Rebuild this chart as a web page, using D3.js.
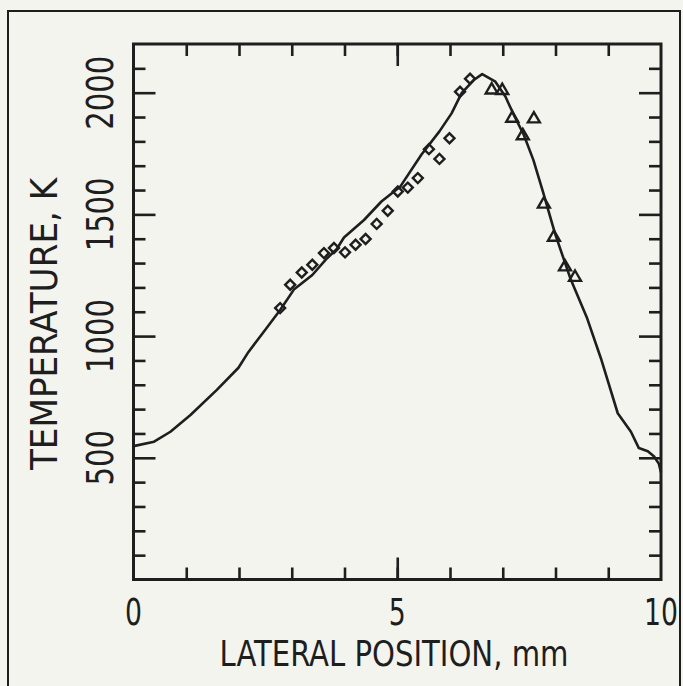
<!DOCTYPE html>
<html>
<head>
<meta charset="utf-8">
<script src="https://cdn.jsdelivr.net/npm/d3@7"></script>
<style>
  html, body { margin: 0; padding: 0; background: #f4f4ee; }
  svg { display: block; }
  text { font-family: "DejaVu Sans Condensed", "DejaVu Sans", sans-serif; font-stretch: condensed; fill: #1e1e1e; }
</style>
</head>
<body>
<script>
// ---- data ----
const curveX = [0, 0.39, 0.70, 1.08, 1.58, 1.99, 2.18, 2.47, 2.78, 3.04, 3.39, 3.67, 3.85, 3.99, 4.37, 4.70, 5.06, 5.46, 5.80, 6.03, 6.22, 6.45, 6.61, 6.86, 7.05, 7.21, 7.40, 7.58, 7.77, 7.99, 8.28, 8.60, 8.86, 9.18, 9.43, 9.58, 9.75, 9.87, 9.96, 10.0];
const curveT = [548, 566, 607, 676, 779, 870, 935, 1018, 1107, 1191, 1251, 1320, 1357, 1405, 1477, 1553, 1615, 1746, 1841, 1915, 1998, 2052, 2076, 2045, 1984, 1909, 1826, 1724, 1587, 1422, 1238, 1073, 909, 683, 607, 540, 527, 505, 475, 440];

const diamondX = [2.78, 2.97, 3.19, 3.39, 3.61, 3.80, 4.01, 4.21, 4.40, 4.61, 4.82, 5.01, 5.20, 5.39, 5.60, 5.80, 5.99, 6.19, 6.38];
const diamondT = [1115, 1211, 1261, 1293, 1341, 1362, 1344, 1375, 1399, 1461, 1515, 1594, 1610, 1649, 1768, 1728, 1813, 2004, 2057];

const triangleX = [6.79, 6.99, 7.18, 7.38, 7.59, 7.78, 7.97, 8.18, 8.37];
const triangleT = [2011, 2009, 1895, 1823, 1892, 1542, 1406, 1284, 1241];

const xTickLabels = [0, 5, 10];
const yTickLabels = [500, 1000, 1500, 2000];
const xMinorTicks = d3.range(1, 10);
const yMinorTicks = d3.range(100, 2200, 100);

const xTitle = "LATERAL POSITION, mm";
const yTitle = "TEMPERATURE, K";

// ---- layout ----
const W = 683, H = 686;
const svg = d3.select("body").append("svg").attr("width", W).attr("height", H);
svg.append("rect").attr("width", W).attr("height", H).attr("fill", "#f4f4ee");

// outer frame
svg.append("path")
  .attr("d", `M8,${H+5} L8,11 L${W-3},11 L${W-3},${H+5}`)
  .attr("fill", "none").attr("stroke", "#1e1e1e").attr("stroke-width", 2);

const x = d3.scaleLinear().domain([0, 10]).range([133.5, 661]);
const y = d3.scaleLinear().domain([0, 2200]).range([579.5, 44]);

const ink = "#1e1e1e";

function styleAxis(g) {
  g.select(".domain").remove();
  g.selectAll(".tick line").attr("stroke", ink).attr("stroke-width", 2.6);
}

const minorLen = 12, majorLen = 22;
svg.append("g").attr("transform", `translate(0,${y(0)})`)
  .call(d3.axisBottom(x).tickValues(xMinorTicks).tickSize(-minorLen).tickFormat(""))
  .call(styleAxis);
svg.append("g").attr("transform", `translate(0,${y(0)})`)
  .call(d3.axisBottom(x).tickValues([5]).tickSize(-majorLen).tickFormat(""))
  .call(styleAxis);
svg.append("g").attr("transform", `translate(0,${y(2200)})`)
  .call(d3.axisTop(x).tickValues(xMinorTicks).tickSize(-minorLen).tickFormat(""))
  .call(styleAxis);
svg.append("g").attr("transform", `translate(0,${y(2200)})`)
  .call(d3.axisTop(x).tickValues([5]).tickSize(-majorLen).tickFormat(""))
  .call(styleAxis);
const yMinorOnly = yMinorTicks.filter(v => v % 500 !== 0);
svg.append("g").attr("transform", `translate(${x(0)},0)`)
  .call(d3.axisLeft(y).tickValues(yMinorOnly).tickSize(-minorLen).tickFormat(""))
  .call(styleAxis);
svg.append("g").attr("transform", `translate(${x(0)},0)`)
  .call(d3.axisLeft(y).tickValues(yTickLabels).tickSize(-majorLen).tickFormat(""))
  .call(styleAxis);
svg.append("g").attr("transform", `translate(${x(10)},0)`)
  .call(d3.axisRight(y).tickValues(yMinorOnly).tickSize(-minorLen).tickFormat(""))
  .call(styleAxis);
svg.append("g").attr("transform", `translate(${x(10)},0)`)
  .call(d3.axisRight(y).tickValues(yTickLabels).tickSize(-majorLen).tickFormat(""))
  .call(styleAxis);

// plot box
svg.append("rect")
  .attr("x", x(0)).attr("y", y(2200))
  .attr("width", x(10) - x(0)).attr("height", y(0) - y(2200))
  .attr("fill", "none").attr("stroke", ink).attr("stroke-width", 3);

// tick labels (condensed via horizontal scale)
svg.append("g").selectAll("text").data(xTickLabels).join("text")
  .attr("transform", d => `translate(${x(d)},625) scale(0.78,1)`)
  .attr("text-anchor", "middle").attr("font-size", 38)
  .text(d => d);
svg.append("g").selectAll("text").data(yTickLabels).join("text")
  .attr("transform", d => `translate(113,${y(d)}) rotate(-90) scale(0.85,1)`)
  .attr("text-anchor", "middle").attr("font-size", 38)
  .text(d => d);

// titles
svg.append("text").attr("transform", "translate(394,666) scale(0.9,1)")
  .attr("text-anchor", "middle").attr("font-size", 36).text(xTitle);
svg.append("text").attr("transform", "translate(57,324) rotate(-90)")
  .attr("text-anchor", "middle").attr("font-size", 38).text(yTitle);

// curve
const line = d3.line().x(d => x(d[0])).y(d => y(d[1]));
svg.append("path")
  .datum(d3.zip(curveX, curveT))
  .attr("d", line)
  .attr("fill", "none").attr("stroke", ink).attr("stroke-width", 2.6)
  .attr("stroke-linejoin", "round");

// diamonds
const diamond = d3.symbol().type(d3.symbolSquare).size(50);
svg.append("g").selectAll("path").data(d3.zip(diamondX, diamondT)).join("path")
  .attr("transform", d => `translate(${x(d[0])},${y(d[1])}) rotate(45)`)
  .attr("d", diamond())
  .attr("fill", "none").attr("stroke", ink).attr("stroke-width", 2.4);

// triangles
const tri = d3.symbol().type(d3.symbolTriangle).size(62);
svg.append("g").selectAll("path").data(d3.zip(triangleX, triangleT)).join("path")
  .attr("transform", d => `translate(${x(d[0])},${y(d[1])})`)
  .attr("d", tri())
  .attr("fill", "none").attr("stroke", ink).attr("stroke-width", 2.4);
</script>
</body>
</html>
